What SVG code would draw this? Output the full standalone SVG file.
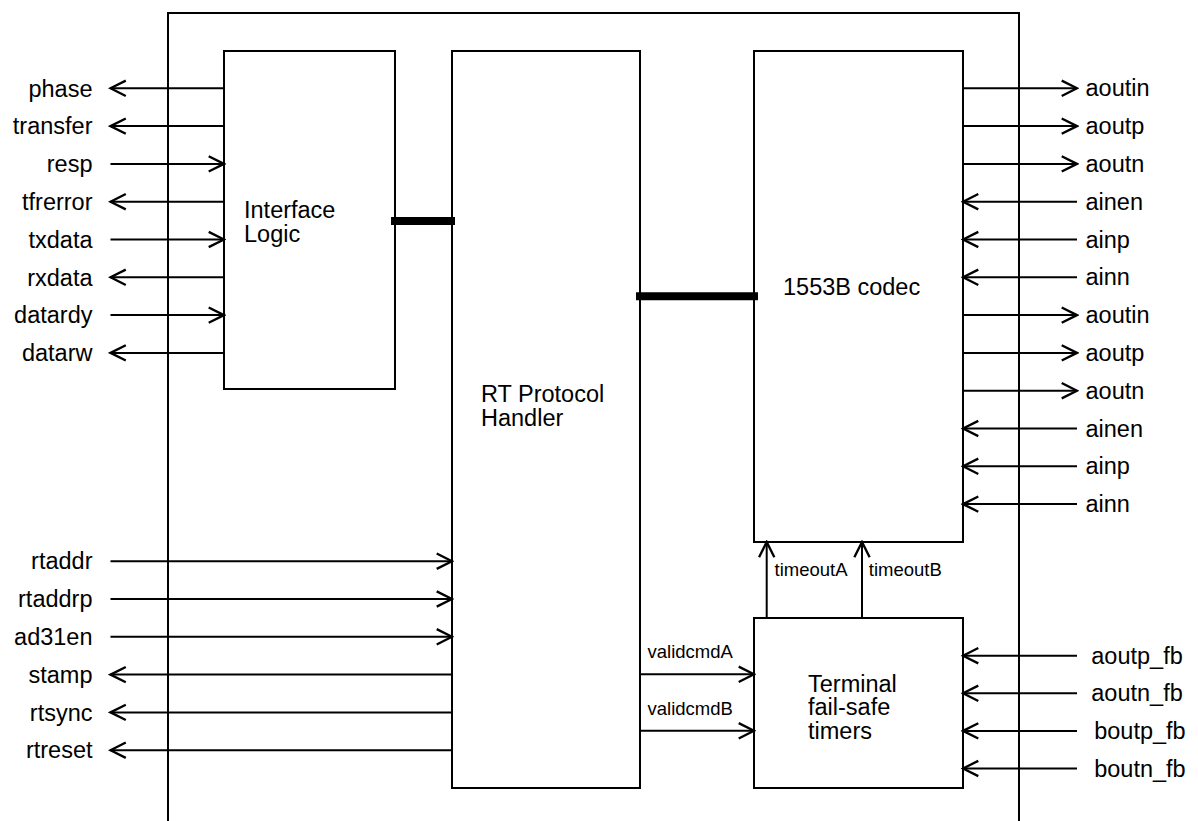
<svg xmlns="http://www.w3.org/2000/svg" width="1198" height="821" viewBox="0 0 1198 821">
<defs>
<marker id="ah" markerUnits="userSpaceOnUse" markerWidth="20" markerHeight="20" viewBox="-15 -8 17 16" refX="0" refY="0" orient="auto">
<path d="M-13,-6.5 L0,0 L-13,6.5" fill="none" stroke="#000" stroke-width="2"/>
</marker>
<style>
.box{fill:#fff;stroke:#000;stroke-width:2}
.w{fill:none;stroke:#000;stroke-width:2}
.bus{fill:none;stroke:#000;stroke-width:8}
.a{marker-end:url(#ah)}
text{font-family:"Liberation Sans",Arial,sans-serif;fill:#000}
.t{font-size:23.5px}
.s{font-size:18.5px}
.l{text-anchor:end}
</style>
</defs>
<rect width="1198" height="821" fill="#fff"/>
<path id="frame" class="w" d="M168,821 V13 H1019 V821"/>

<g id="interface-logic">
<rect class="box" x="224" y="51" width="171" height="338"/>
<text class="t" x="244" y="218.3">Interface</text>
<text class="t" x="244" y="242.3">Logic</text>
</g>
<g id="rt-protocol-handler">
<rect class="box" x="452" y="51" width="188" height="737"/>
<text class="t" x="481" y="401.5">RT Protocol</text>
<text class="t" x="481" y="425.6">Handler</text>
</g>
<g id="codec">
<rect class="box" x="754" y="51" width="209" height="491"/>
<text class="t" x="783" y="295">1553B codec</text>
</g>
<g id="timers">
<rect class="box" x="754" y="618" width="209" height="170"/>
<text class="t" x="808" y="691.5">Terminal</text>
<text class="t" x="808" y="715.4">fail-safe</text>
<text class="t" x="808" y="739.3">timers</text>
</g>

<g id="connectors">
<line class="bus" x1="391" y1="221" x2="455" y2="221"/>
<line class="bus" x1="636" y1="296.3" x2="758" y2="296.3"/>
<line class="w a" x1="224" y1="88.3" x2="110.5" y2="88.3"/>
<line class="w a" x1="224" y1="126.1" x2="110.5" y2="126.1"/>
<line class="w a" x1="110.5" y1="163.9" x2="224" y2="163.9"/>
<line class="w a" x1="224" y1="201.7" x2="110.5" y2="201.7"/>
<line class="w a" x1="110.5" y1="239.5" x2="224" y2="239.5"/>
<line class="w a" x1="224" y1="277.3" x2="110.5" y2="277.3"/>
<line class="w a" x1="110.5" y1="315.1" x2="224" y2="315.1"/>
<line class="w a" x1="224" y1="352.9" x2="110.5" y2="352.9"/>
<line class="w a" x1="110.5" y1="561.2" x2="452" y2="561.2"/>
<line class="w a" x1="110.5" y1="599" x2="452" y2="599"/>
<line class="w a" x1="110.5" y1="636.8" x2="452" y2="636.8"/>
<line class="w a" x1="452" y1="674.6" x2="110.5" y2="674.6"/>
<line class="w a" x1="452" y1="712.4" x2="110.5" y2="712.4"/>
<line class="w a" x1="452" y1="750.2" x2="110.5" y2="750.2"/>
<line class="w a" x1="963" y1="88.3" x2="1077" y2="88.3"/>
<line class="w a" x1="963" y1="126.1" x2="1077" y2="126.1"/>
<line class="w a" x1="963" y1="163.9" x2="1077" y2="163.9"/>
<line class="w a" x1="1077" y1="201.7" x2="963" y2="201.7"/>
<line class="w a" x1="1077" y1="239.5" x2="963" y2="239.5"/>
<line class="w a" x1="1077" y1="277.3" x2="963" y2="277.3"/>
<line class="w a" x1="963" y1="315.1" x2="1077" y2="315.1"/>
<line class="w a" x1="963" y1="352.9" x2="1077" y2="352.9"/>
<line class="w a" x1="963" y1="390.7" x2="1077" y2="390.7"/>
<line class="w a" x1="1077" y1="428.5" x2="963" y2="428.5"/>
<line class="w a" x1="1077" y1="466.3" x2="963" y2="466.3"/>
<line class="w a" x1="1077" y1="504.1" x2="963" y2="504.1"/>
<line class="w a" x1="1077" y1="655.7" x2="963" y2="655.7"/>
<line class="w a" x1="1077" y1="693.3" x2="963" y2="693.3"/>
<line class="w a" x1="1077" y1="730.9" x2="963" y2="730.9"/>
<line class="w a" x1="1077" y1="768.5" x2="963" y2="768.5"/>
<line class="w a" x1="640" y1="674.3" x2="754" y2="674.3"/>
<line class="w a" x1="640" y1="730.8" x2="754" y2="730.8"/>
<line class="w a" x1="766.7" y1="618" x2="766.7" y2="542"/>
<line class="w a" x1="862" y1="618" x2="862" y2="542"/>
<text class="s" x="647.5" y="658.3">validcmdA</text>
<text class="s" x="647.5" y="715">validcmdB</text>
<text class="s" x="774.5" y="576">timeoutA</text>
<text class="s" x="868.8" y="576">timeoutB</text>
</g>

<g id="labels-left">
<text class="t l" x="92.5" y="96.5">phase</text>
<text class="t l" x="92.5" y="134.3">transfer</text>
<text class="t l" x="92.5" y="172.1">resp</text>
<text class="t l" x="92.5" y="209.9">tfrerror</text>
<text class="t l" x="92.5" y="247.7">txdata</text>
<text class="t l" x="92.5" y="285.5">rxdata</text>
<text class="t l" x="92.5" y="323.3">datardy</text>
<text class="t l" x="92.5" y="361.1">datarw</text>
<text class="t l" x="92.5" y="569.4">rtaddr</text>
<text class="t l" x="92.5" y="607.2">rtaddrp</text>
<text class="t l" x="92.5" y="645">ad31en</text>
<text class="t l" x="92.5" y="682.8">stamp</text>
<text class="t l" x="92.5" y="720.6">rtsync</text>
<text class="t l" x="92.5" y="758.4">rtreset</text>
</g>
<g id="labels-right">
<text class="t" x="1085.5" y="96.3">aoutin</text>
<text class="t" x="1085.5" y="134.1">aoutp</text>
<text class="t" x="1085.5" y="171.9">aoutn</text>
<text class="t" x="1085.5" y="209.7">ainen</text>
<text class="t" x="1085.5" y="247.5">ainp</text>
<text class="t" x="1085.5" y="285.3">ainn</text>
<text class="t" x="1085.5" y="323.1">aoutin</text>
<text class="t" x="1085.5" y="360.9">aoutp</text>
<text class="t" x="1085.5" y="398.7">aoutn</text>
<text class="t" x="1085.5" y="436.5">ainen</text>
<text class="t" x="1085.5" y="474.3">ainp</text>
<text class="t" x="1085.5" y="512.1">ainn</text>
<text class="t" x="1091.3" y="663.7">aoutp_fb</text>
<text class="t" x="1091.3" y="701.3">aoutn_fb</text>
<text class="t" x="1094.2" y="738.9">boutp_fb</text>
<text class="t" x="1094.2" y="776.5">boutn_fb</text>
</g>
</svg>
